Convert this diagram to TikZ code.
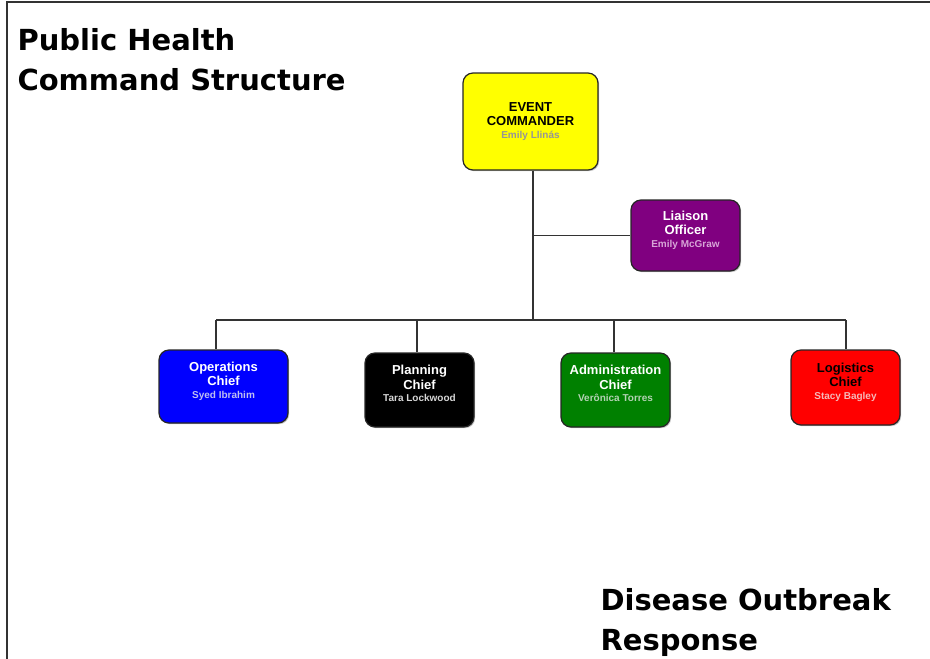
\documentclass[tikz,border=0pt]{standalone}
\usepackage{fontspec}
\setmainfont{Liberation Sans}
\newfontfamily\heavyfont{DejaVu Sans}
\usepackage{xcolor}
\usepackage{tikz}
\usetikzlibrary{shadows}
\definecolor{cmdyellow}{RGB}{255,255,0}
\definecolor{liapurple}{RGB}{128,0,128}
\definecolor{opsblue}{RGB}{0,0,255}
\definecolor{admgreen}{RGB}{0,128,0}
\definecolor{logred}{RGB}{255,0,0}
\definecolor{cmdname}{RGB}{150,150,150}
\definecolor{lianame}{RGB}{215,165,215}
\definecolor{opsname}{RGB}{190,190,240}
\definecolor{planname}{RGB}{215,215,215}
\definecolor{admname}{RGB}{180,210,180}
\definecolor{logname}{RGB}{245,185,185}

\begin{document}
\begin{tikzpicture}[x=1pt,y=-1pt]
      \tikzstyle{box}=[rectangle,rounded corners=10pt,draw=black!85,line width=1.2pt,
        align=center,inner sep=2pt,font=\bfseries\fontsize{13}{14.5}\selectfont,
        drop shadow={shadow xshift=1.2pt,shadow yshift=-1.2pt,opacity=0.45}]
      \tikzstyle{chief}=[box,text depth=13pt]
      \tikzstyle{link}=[line width=1.2pt,draw=black!80]
      \tikzstyle{title}=[anchor=north west,align=left,font=\heavyfont\bfseries\fontsize{29}{40}\selectfont]
      \useasboundingbox (0,0) rectangle (930,659);
      \draw[line width=2pt,black!80] (7,659) -- (7,2) -- (930,2);
      % titles
      \node[title] (t1) at (14,25) {Public Health\\Command Structure};
      \node[title] (t2) at (597,585) {Disease Outbreak\\Response};
      % boxes
      \node[box,fill=cmdyellow,minimum width=135pt,minimum height=97pt] (ec) at (530.5,121.5)
        {EVENT\\COMMANDER\\[-2pt]{\fontsize{10}{14}\selectfont\color{cmdname}Emily Llinás}};
      \node[chief,fill=liapurple,text=white,minimum width=109pt,minimum height=71pt] (lo) at (685.5,235.5)
        {Liaison\\Officer\\[-2pt]{\fontsize{10}{14}\selectfont\color{lianame}Emily McGraw}};
      \node[chief,fill=opsblue,text=white,minimum width=129pt,minimum height=73pt] (ops) at (223.5,386.5)
        {Operations\\Chief\\[-2pt]{\fontsize{10}{14}\selectfont\color{opsname}Syed Ibrahim}};
      \node[chief,fill=black,text=white,minimum width=109pt,minimum height=74pt] (plan) at (419.5,390)
        {Planning\\Chief\\[-2pt]{\fontsize{10}{14}\selectfont\color{planname}Tara Lockwood}};
      \node[chief,fill=admgreen,text=white,minimum width=109pt,minimum height=74pt] (adm) at (615.5,390)
        {Administration\\Chief\\[-2pt]{\fontsize{10}{14}\selectfont\color{admname}Verônica Torres}};
      \node[chief,fill=logred,minimum width=109pt,minimum height=75pt] (log) at (845.5,387.5)
        {Logistics\\Chief\\[-2pt]{\fontsize{10}{14}\selectfont\color{logname}Stacy Bagley}};
      % connectors
      \coordinate (j0) at (533,320);
      \coordinate (jl) at (533,235.5);
      \coordinate (j1) at (216,320);
      \coordinate (j2) at (417,320);
      \coordinate (j3) at (614,320);
      \coordinate (j4) at (846,320);
      \draw[link] (j0 |- ec.south) -- (j0);
      \draw[link] (jl) -- (lo.west);
      \draw[link] (j1) -- (j4);
      \draw[link] (j1) -- (j1 |- ops.north);
      \draw[link] (j2) -- (j2 |- plan.north);
      \draw[link] (j3) -- (j3 |- adm.north);
      \draw[link] (j4) -- (j4 |- log.north);
    \end{tikzpicture}
\end{document}
